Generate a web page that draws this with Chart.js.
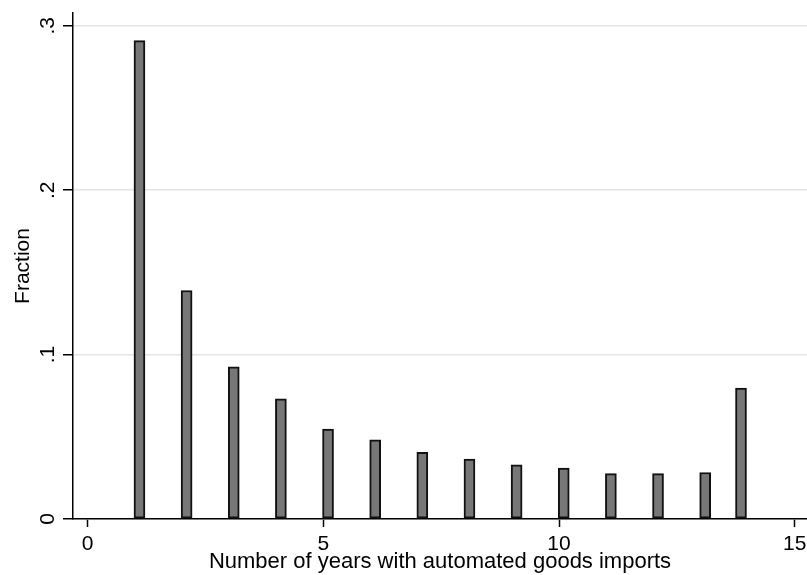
<!DOCTYPE html>
<html>
<head>
<meta charset="utf-8">
<script src="https://cdn.jsdelivr.net/npm/chart.js@4/dist/chart.umd.min.js"></script>
<style>
  html, body { margin: 0; padding: 0; background: #ffffff; }
  canvas { display: block; }
</style>
</head>
<body>
<canvas id="hist" width="807" height="575"></canvas>
<script>
// Histogram: share of firms by number of years with automated goods imports
const binCenters = [1.1, 2.1, 3.1, 4.1, 5.1, 6.1, 7.1, 8.1, 9.1, 10.1, 11.1, 12.1, 13.1, 13.86];
const fractions  = [0.291, 0.139, 0.0926, 0.0731, 0.0547, 0.0482, 0.0405, 0.0365, 0.033, 0.031, 0.0276, 0.0276, 0.0283, 0.0796];
const xTicks = [0, 5, 10, 15];
const yTicks = [0, 0.1, 0.2, 0.3];
const xTitle = 'Number of years with automated goods imports';
const yTitle = 'Fraction';

const FONT = { family: '"Liberation Sans", Arial, sans-serif', size: 21 };
const TITLE_FONT = { family: '"Liberation Sans", Arial, sans-serif', size: 22 };

// Stata-style numbers: ".1", ".2" ... and plain "0"
function stataLabel(v) {
  if (Math.abs(v) < 1e-9) return '0';
  const s = String(Math.round(v * 1000) / 1000);
  return s.replace(/^0\./, '.');
}

new Chart(document.getElementById('hist'), {
  type: 'bar',
  data: {
    datasets: [{
      data: binCenters.map((x, i) => ({ x: x, y: fractions[i] })),
      backgroundColor: '#777777',
      borderColor: '#111111',
      borderWidth: 2,
      borderSkipped: false,
      barThickness: 11
    }]
  },
  options: {
    responsive: false,
    animation: false,
    devicePixelRatio: 1,
    layout: { padding: { top: 13, right: 0, bottom: 0, left: 0 } },
    plugins: { legend: { display: false }, tooltip: { enabled: false } },
    scales: {
      x: {
        type: 'linear',
        min: -0.31,
        max: 15.26,
        offset: false,
        afterBuildTicks: s => { s.ticks = xTicks.map(v => ({ value: v })); },
        afterFit: s => { s.height = 56; s.paddingLeft = 0; s.paddingRight = 0; },
        grid: { offset: false, drawOnChartArea: false, drawTicks: true, tickLength: 8, tickColor: '#000000', tickWidth: 1.5 },
        border: { display: true, color: '#000000', width: 1.5 },
        ticks: { color: '#000000', font: FONT, padding: 5, maxRotation: 0, callback: v => stataLabel(v) },
        title: { display: true, text: xTitle, color: '#000000', font: TITLE_FONT, padding: { top: 0, bottom: 0 } }
      },
      y: {
        type: 'linear',
        min: 0,
        max: 0.3078,
        afterBuildTicks: s => { s.ticks = yTicks.map(v => ({ value: v })); },
        afterFit: s => { s.width = 73; s.paddingTop = 0; s.paddingBottom = 0; },
        grid: { color: '#e4e4e4', lineWidth: 1.5, tickLength: 10, tickColor: '#000000', tickWidth: 1.5 },
        border: { display: true, color: '#000000', width: 1.5 },
        ticks: { color: '#000000', font: FONT, padding: 6.5, minRotation: 90, maxRotation: 90, crossAlign: 'center', callback: v => stataLabel(v) },
        title: { display: true, text: yTitle, color: '#000000', font: FONT, padding: { top: 11, bottom: 0 } }
      }
    }
  }
});
</script>
</body>
</html>
